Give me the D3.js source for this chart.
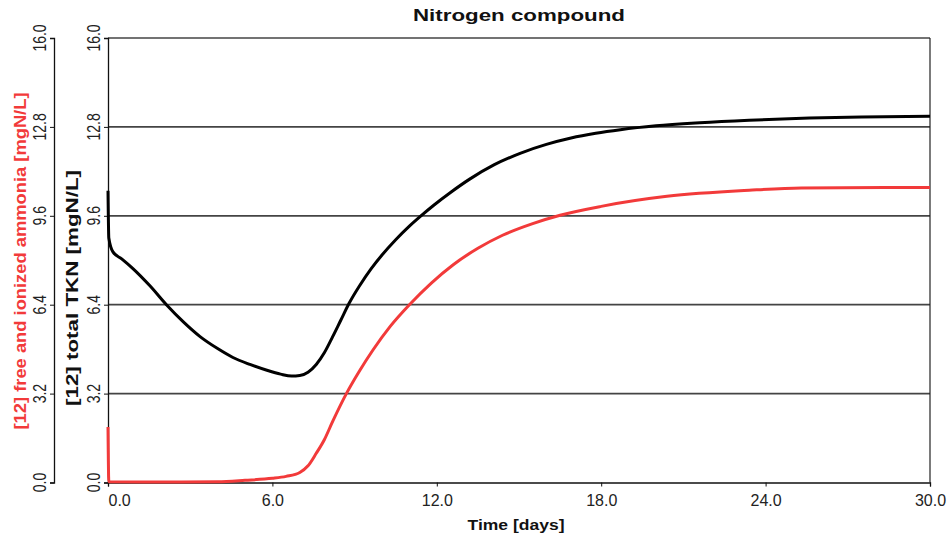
<!DOCTYPE html>
<html>
<head>
<meta charset="utf-8">
<script src="https://cdn.jsdelivr.net/npm/d3@7"></script>
<style>
  html, body { margin: 0; padding: 0; background: #fff; }
  svg { display: block; }
  text { font-family: "Liberation Sans", Arial, sans-serif; }
</style>
</head>
<body>
<script>
// ---- data ----
const chartTitle = "Nitrogen compound";
const xTitle = "Time [days]";
const redTitle = "[12] free and ionized ammonia [mgN/L]";
const blackTitle = "[12] total TKN [mgN/L]";
const xTicks = [0, 6, 12, 18, 24, 30];
const yTicks = [0, 3.2, 6.4, 9.6, 12.8, 16];

const tknTime = [0, 0.03, 0.18, 0.5, 0.91, 1.53, 2.15, 2.75, 3.36, 4.0, 4.56, 5.18, 5.8, 6.3, 6.7, 7.0, 7.3, 7.6, 7.9, 8.2, 8.5, 8.8, 9.2, 9.6, 10.0, 10.5, 11.0, 11.4, 11.9, 12.5, 13.2, 14.1, 15.04, 16.0, 16.9, 17.8, 18.7, 20.0, 21.6, 23.4, 25.6, 27.5, 30];
const tknValue = [10.5, 8.8, 8.3, 8.05, 7.7, 7.08, 6.38, 5.78, 5.25, 4.82, 4.5, 4.25, 4.04, 3.9, 3.83, 3.85, 3.97, 4.25, 4.68, 5.25, 5.85, 6.45, 7.11, 7.69, 8.19, 8.74, 9.23, 9.58, 9.99, 10.44, 10.92, 11.44, 11.85, 12.17, 12.4, 12.57, 12.7, 12.84, 12.95, 13.04, 13.12, 13.16, 13.18];

const nhTime = [0, 0.03, 2, 4, 5, 6, 6.5, 7.0, 7.3, 7.6, 7.9, 8.2, 8.7, 9.2, 9.67, 10.3, 11.0, 11.8, 12.6, 13.5, 14.4, 15.5, 16.5, 18.0, 20.4, 23.4, 25.3, 30];
const nhValue = [2.0, 0.03, 0.02, 0.03, 0.08, 0.15, 0.22, 0.36, 0.6, 1.05, 1.55, 2.2, 3.2, 4.05, 4.77, 5.62, 6.4, 7.18, 7.84, 8.43, 8.9, 9.32, 9.62, 9.94, 10.3, 10.52, 10.6, 10.62];

// ---- layout ----
const W = 951, H = 538;
const plotL = 108, plotR = 930, plotT = 38, plotB = 482.5;
const outerAxisX = 54;
const RED = "#f23a3a";

const svg = d3.select("body").append("svg").attr("width", W).attr("height", H);

const x = d3.scaleLinear().domain([0, 30]).range([plotL, plotR]);
const y = d3.scaleLinear().domain([0, 16]).range([plotB, plotT]);

// grid lines
svg.append("g").selectAll("line")
  .data(yTicks.filter(d => d > 0 && d < 16))
  .join("line")
  .attr("x1", plotL).attr("x2", plotR)
  .attr("y1", d => y(d)).attr("y2", d => y(d))
  .attr("stroke", "#444").attr("stroke-width", 1.7);

// plot border (top and right)
svg.append("line").attr("x1", plotL).attr("x2", plotR).attr("y1", y(16)).attr("y2", y(16))
  .attr("stroke", "#444").attr("stroke-width", 1.6);
svg.append("line").attr("x1", plotR).attr("x2", plotR).attr("y1", y(16)).attr("y2", y(0))
  .attr("stroke", "#222").attr("stroke-width", 1.2);

// x axis
const xAxis = d3.axisBottom(x).tickValues(xTicks).tickSize(4).tickFormat(d3.format(".1f"));
const gx = svg.append("g").attr("transform", `translate(0,${plotB})`).call(xAxis);
gx.select(".domain").attr("stroke", "#111").attr("stroke-width", 1.3);
gx.selectAll(".tick line").attr("stroke", "#111");
gx.selectAll(".tick text")
  .attr("font-size", 16).attr("fill", "#222")
  .attr("font-family", "'Liberation Sans', Arial, sans-serif")
  .attr("dy", "1.05em")
  .attr("text-anchor", d => d === 0 ? "start" : "middle");

// inner y axis (TKN)
const yAxisInner = d3.axisLeft(y).tickValues(yTicks).tickSize(4).tickFormat(() => "");
const gyi = svg.append("g").attr("transform", `translate(${plotL},0)`).call(yAxisInner);
gyi.select(".domain").attr("stroke", "#111").attr("stroke-width", 1.3);
gyi.selectAll(".tick line").attr("stroke", "#111");

// outer y axis (ammonia)
const yAxisOuter = d3.axisLeft(y).tickValues(yTicks).tickSize(4).tickFormat(() => "");
const gyo = svg.append("g").attr("transform", `translate(${outerAxisX},0)`).call(yAxisOuter);
gyo.select(".domain").attr("stroke", "#111").attr("stroke-width", 1.3);
gyo.selectAll(".tick line").attr("stroke", "#111");

// rotated tick labels
function rotLabels(cx) {
  svg.append("g").selectAll("text")
    .data(yTicks).join("text")
    .attr("transform", d => `translate(${cx},${y(d)}) scale(1.3,1) rotate(-90)`)
    .attr("text-anchor", "middle")
    .attr("dominant-baseline", "central")
    .attr("font-size", 14).attr("fill", "#222")
    .text(d => d3.format(".1f")(d));
}
rotLabels(39.5);
rotLabels(93);

// lines
const line = d3.line().x(d => x(d[0])).y(d => y(d[1])).curve(d3.curveMonotoneX);
const nhData = nhTime.map((t, i) => [t, nhValue[i]]);
const tknData = tknTime.map((t, i) => [t, tknValue[i]]);

svg.append("path").datum(nhData).attr("d", line)
  .attr("fill", "none").attr("stroke", RED).attr("stroke-width", 3).attr("stroke-linejoin", "round");
svg.append("path").datum(tknData).attr("d", line)
  .attr("fill", "none").attr("stroke", "#000").attr("stroke-width", 3).attr("stroke-linejoin", "round");

// titles
svg.append("text").attr("x", 519).attr("y", 21).attr("text-anchor", "middle")
  .attr("font-size", 17).attr("font-weight", "bold").attr("fill", "#111")
  .attr("textLength", 212).attr("lengthAdjust", "spacingAndGlyphs")
  .text(chartTitle);

svg.append("text").attr("x", 516).attr("y", 530).attr("text-anchor", "middle")
  .attr("font-size", 15).attr("font-weight", "bold").attr("fill", "#111")
  .attr("textLength", 97).attr("lengthAdjust", "spacingAndGlyphs")
  .text(xTitle);

svg.append("text")
  .attr("transform", `translate(20.5,261) scale(1.2,1) rotate(-90)`)
  .attr("text-anchor", "middle").attr("dominant-baseline", "central")
  .attr("font-size", 14).attr("font-weight", "bold").attr("fill", RED)
  .attr("textLength", 337).attr("lengthAdjust", "spacingAndGlyphs")
  .text(redTitle);

svg.append("text")
  .attr("transform", `translate(72.5,288) scale(1.2,1) rotate(-90)`)
  .attr("text-anchor", "middle").attr("dominant-baseline", "central")
  .attr("font-size", 14).attr("font-weight", "bold").attr("fill", "#111")
  .attr("textLength", 236).attr("lengthAdjust", "spacingAndGlyphs")
  .text(blackTitle);
</script>
</body>
</html>
